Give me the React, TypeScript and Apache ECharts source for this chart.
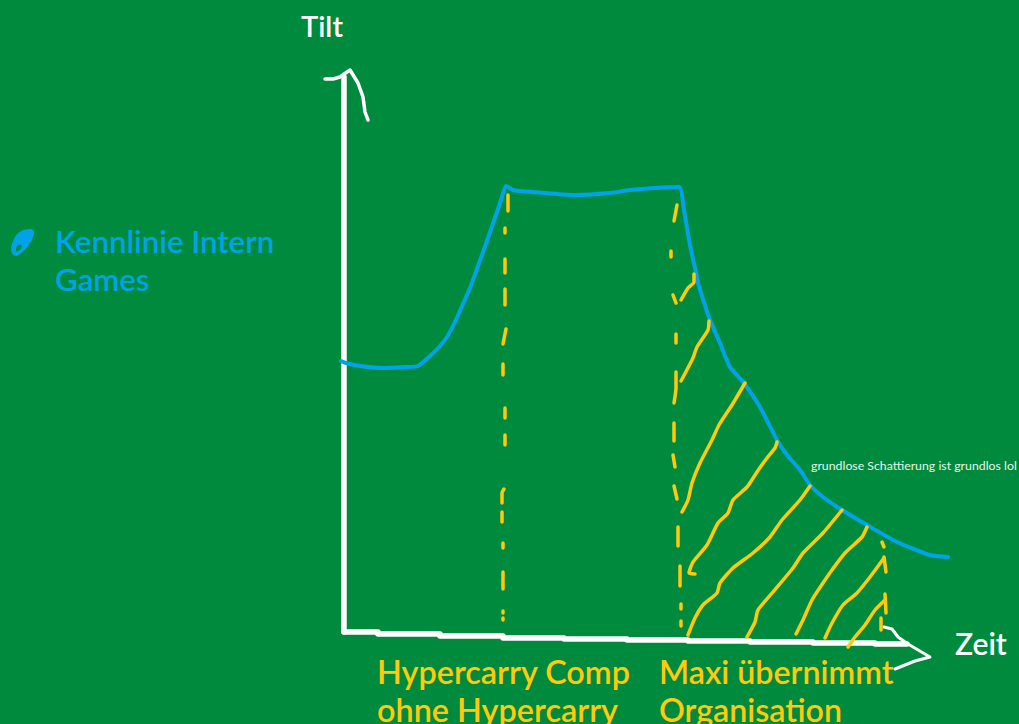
import React, { useEffect, useRef } from "react";
import * as echarts from "echarts";

type Stroke = [number, number][];

const legendName = "Kennlinie Intern\nGames";
const axisTitleY = "Tilt";
const axisTitleX = "Zeit";
const phaseLabels = ["Hypercarry Comp\nohne Hypercarry", "Maxi übernimmt\nOrganisation"];
const note = "grundlose Schattierung ist grundlos lol";

// Values: [Zeit, Tilt], origin where the two axes meet
const kennlinie: Stroke = [[-4,271],[1,269],[15,266],[40,264],[60,265],[73,266],[85,276],[95,286],[102,295],[110,310],[118,328],[125,344],[133,366],[143,394],[152,420],[157,435],[161,446],[168,442],[175,441],[200,439],[230,437],[265,439],[285,442],[310,444],[334,445],[339,422],[345,387],[352,355],[353,349],[365,312],[375,289],[385,265],[398,250],[415,225],[432,192],[442,177],[455,162],[465,147],[478,135],[497,122],[522,107],[552,90],[585,77],[603,75]];

const yAxisStroke: Stroke = [[-1,0],[-1,555]];
const yArrow: Stroke = [[-20,553],[-12,553],[-5,555],[5,562],[13,549],[18,535],[20,520],[23,512]];
const xAxisStroke: Stroke = [[-1,0],[33,0],[33,-2],[95,-2],[95,-4],[158,-4],[158,-6],[219,-6],[219,-7],[282,-7],[282,-8],[343,-8],[343,-9],[405,-9],[405,-10],[468,-10],[468,-11],[530,-11],[530,-12],[562,-12]];
const xArrow: Stroke = [[539,5],[547,3],[553,-5],[563,-12],[585,-25],[570,-29],[550,-37]];

const dashesLeft: Stroke[] = [
  [[163,437],[163,421]],[[160,404],[160,399]],[[160,373],[160,359]],[[160,343],[160,327]],
  [[161,303],[158,288]],[[158,268],[158,257]],[[160,224],[160,214]],[[160,197],[160,187]],
  [[159,143],[157,139],[157,129]],[[157,120],[157,110]],[[158,89],[158,84]],[[158,60],[158,43]],
  [[158,21],[158,19]],[[158,14],[158,12]],
];
const dashesRight: Stroke[] = [
  [[332,427],[329,411]],[[326,381],[326,375]],[[328,337],[331,329]],[[331,298],[331,289]],
  [[331,260],[331,244],[329,229]],[[329,209],[329,191]],[[328,177],[330,165]],[[329,146],[332,133]],
  [[333,105],[333,86]],[[335,66],[335,46]],[[336,28],[336,23]],[[336,11],[336,6]],
];
const dashesEnd: Stroke[] = [
  [[537,90],[539,85]],[[539,75],[541,60]],[[540,38],[541,19]],[[536,14],[536,2]],
];
const hatching: Stroke[] = [
  [[349,358],[349,350],[343,344],[336,332]],
  [[364,311],[363,302],[352,285],[348,274],[336,251]],
  [[400,249],[387,227],[374,207],[367,192],[355,169],[347,149],[343,132],[337,120]],
  [[432,190],[430,184],[422,174],[412,160],[402,145],[388,132],[383,119],[373,109],[362,87],[348,70],[344,59],[350,58]],
  [[465,146],[455,132],[437,112],[425,95],[408,79],[388,64],[375,49],[372,39],[358,27],[350,14],[343,-3]],
  [[497,122],[478,99],[458,79],[448,64],[428,40],[413,22],[410,10],[402,-5]],
  [[522,105],[517,95],[500,79],[487,62],[478,49],[467,32],[458,12],[451,-2]],
  [[539,74],[525,55],[512,39],[498,27],[487,9],[480,-6]],
  [[540,32],[530,22],[520,7],[510,-5],[503,-15]],
];

const GREEN = "#008A3E";
const BLUE = "#00A2E8";
const GOLD = "#FFC90E";
const WHITE = "#FFFFFF";
const FONT = "Lato";

// The last, empty sub-path only stretches the icon's box, so that the ball sits beside the first text line
const footballIcon =
  "path://M12 255C9 252 10 246 12 242C14 236 18 231 25 230C28 229 32 229 33 231C34 236 31 241 28 245C25 250 21 254 17 256C15 257 13 256 12 255Z" +
  "M15 252C18 252 21 249 21 246C18 244 14 247 15 252Z" +
  "M10 292L10 292Z";

const stroke = (data: Stroke, color: string, width: number, name?: string, smooth: number | boolean = false) => ({
  type: "line" as const,
  name,
  data,
  smooth,
  symbol: "none",
  silent: true,
  lineStyle: { color, width, cap: "round" as const, join: "round" as const },
  itemStyle: { color },
});

export default function App() {
  const ref = useRef<HTMLDivElement>(null);
  useEffect(() => {
    document.body.style.margin = "0";
    const chart = echarts.init(ref.current!, null, { renderer: "svg" });
    const label = (text: string, x: number, y: number, fill: string, fontSize: number, fontWeight = 600, lineHeight?: number) => ({
      type: "text" as const,
      x,
      y,
      silent: true,
      z: 10,
      style: { text, fill, fontSize, fontWeight, fontFamily: FONT, lineHeight },
    });
    chart.setOption({
      animation: false,
      backgroundColor: GREEN,
      grid: { left: 0, right: 0, top: 0, bottom: 0 },
      xAxis: { type: "value", min: -345, max: 674, show: false },
      yAxis: { type: "value", min: -92, max: 632, show: false },
      legend: {
        data: [{ name: legendName, icon: footballIcon }],
        left: 6,
        top: 217,
        itemWidth: 23,
        itemHeight: 63,
        selectedMode: false,
        textStyle: {
          color: BLUE,
          fontFamily: FONT,
          fontWeight: 600,
          fontSize: 31.2,
          lineHeight: 38,
          padding: [0, 0, 0, 16],
        },
      },
      graphic: [
        label(axisTitleY, 301, 11, WHITE, 29, 600),
        label(axisTitleX, 955, 628, WHITE, 30, 600),
        label(phaseLabels[0], 377, 652, GOLD, 32.4, 600, 38),
        label(phaseLabels[1], 659, 652, GOLD, 32.2, 600, 38),
        label(note, 811, 459, "#E6F5EA", 12.3, 400),
      ],
      series: [
        stroke(yAxisStroke, WHITE, 5.5),
        stroke(xAxisStroke, WHITE, 5.5),
        stroke(yArrow, WHITE, 3.5),
        stroke(xArrow, WHITE, 3),
        stroke(kennlinie, BLUE, 4, legendName, 0.2),
        ...[...dashesLeft, ...dashesRight, ...dashesEnd, ...hatching].map((s) => stroke(s, GOLD, 3.5, undefined, 0.2)),
      ],
    });
    return () => chart.dispose();
  }, []);
  return <div ref={ref} style={{ width: 1019, height: 724 }} />;
}
